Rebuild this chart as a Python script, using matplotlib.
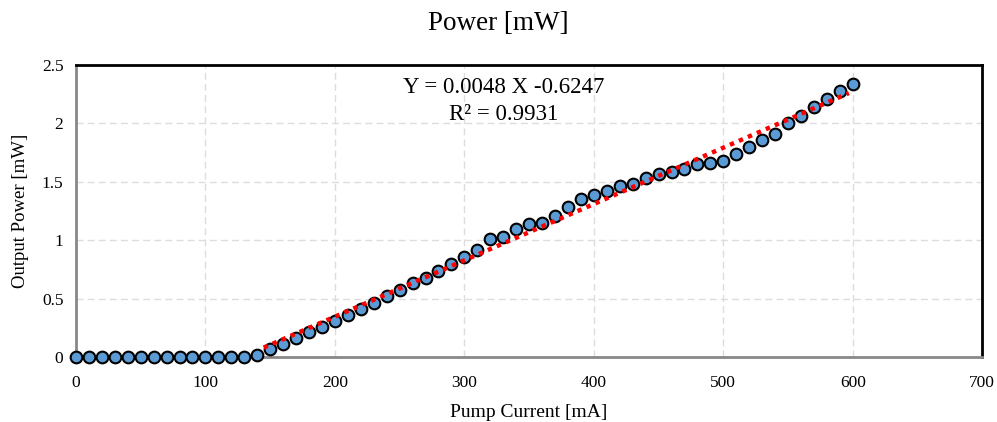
import numpy as np
import matplotlib
matplotlib.use("Agg")
import matplotlib.pyplot as plt

plt.rcParams['font.family'] = ['Liberation Serif', 'DejaVu Serif']

# pump current [mA]
current = list(range(0, 610, 10))
# output power [mW]
power = [0, 0, 0, 0, 0, 0, 0, 0, 0, 0, 0, 0, 0, 0,
         0.02, 0.07, 0.11, 0.16, 0.21, 0.26, 0.31, 0.36, 0.41, 0.46, 0.52,
         0.57, 0.63, 0.68, 0.74, 0.80, 0.86, 0.92, 1.01, 1.03, 1.10, 1.14,
         1.15, 1.21, 1.28, 1.35, 1.39, 1.42, 1.46, 1.48, 1.53, 1.57, 1.58,
         1.61, 1.65, 1.66, 1.68, 1.74, 1.80, 1.86, 1.91, 2.00, 2.06, 2.14,
         2.21, 2.28, 2.34]
eq_text = "Y = 0.0048 X -0.6247"
r2_text = "R² = 0.9931"

x = np.array(current, dtype=float)
y = np.array(power)

fig = plt.figure(figsize=(9.97, 4.22), dpi=100)
ax = fig.add_axes([0.0762, 0.154, 0.909, 0.692])

# trendline over the lasing part
m = x >= 150
k, b = np.polyfit(x[m], y[m], 1)
xf = np.array([145, 597])

ax.plot(x, y, 'o', ms=8.4, mfc='#5B9BD5', mec='black', mew=1.5, zorder=3, clip_on=False)
ax.plot(xf, k * xf + b, color='red', ls=(0, (1, 1.2)), lw=3.2, zorder=4)

ax.set_xlim(0, 700)
ax.set_ylim(0, 2.5)
ax.set_xticks(range(0, 701, 100))
ax.set_yticks([0, 0.5, 1, 1.5, 2, 2.5])
ax.set_yticklabels(['0', '0.5', '1', '1.5', '2', '2.5'])
ax.tick_params(length=0, labelsize=12.5)
ax.tick_params(axis='x', pad=13)
ax.tick_params(axis='y', pad=9)
ax.grid(True, color='#dddddd', ls=(0, (5, 3)), lw=1)
ax.set_axisbelow(True)

for s in ['top', 'right']:
    ax.spines[s].set_color('black')
    ax.spines[s].set_linewidth(2)
for s in ['left', 'bottom']:
    ax.spines[s].set_color('#888888')
    ax.spines[s].set_linewidth(2)

ax.set_xlabel('Pump Current [mA]', fontsize=14, labelpad=9)
ax.set_ylabel('Output Power [mW]', fontsize=13.5, labelpad=9)
fig.suptitle('Power [mW]', fontsize=19.5, y=0.975)

ax.text(330, 2.31, eq_text, ha='center', va='center', fontsize=16.5)
ax.text(330, 2.08, r2_text, ha='center', va='center', fontsize=16.5)

fig.savefig('out.png', dpi=100)
